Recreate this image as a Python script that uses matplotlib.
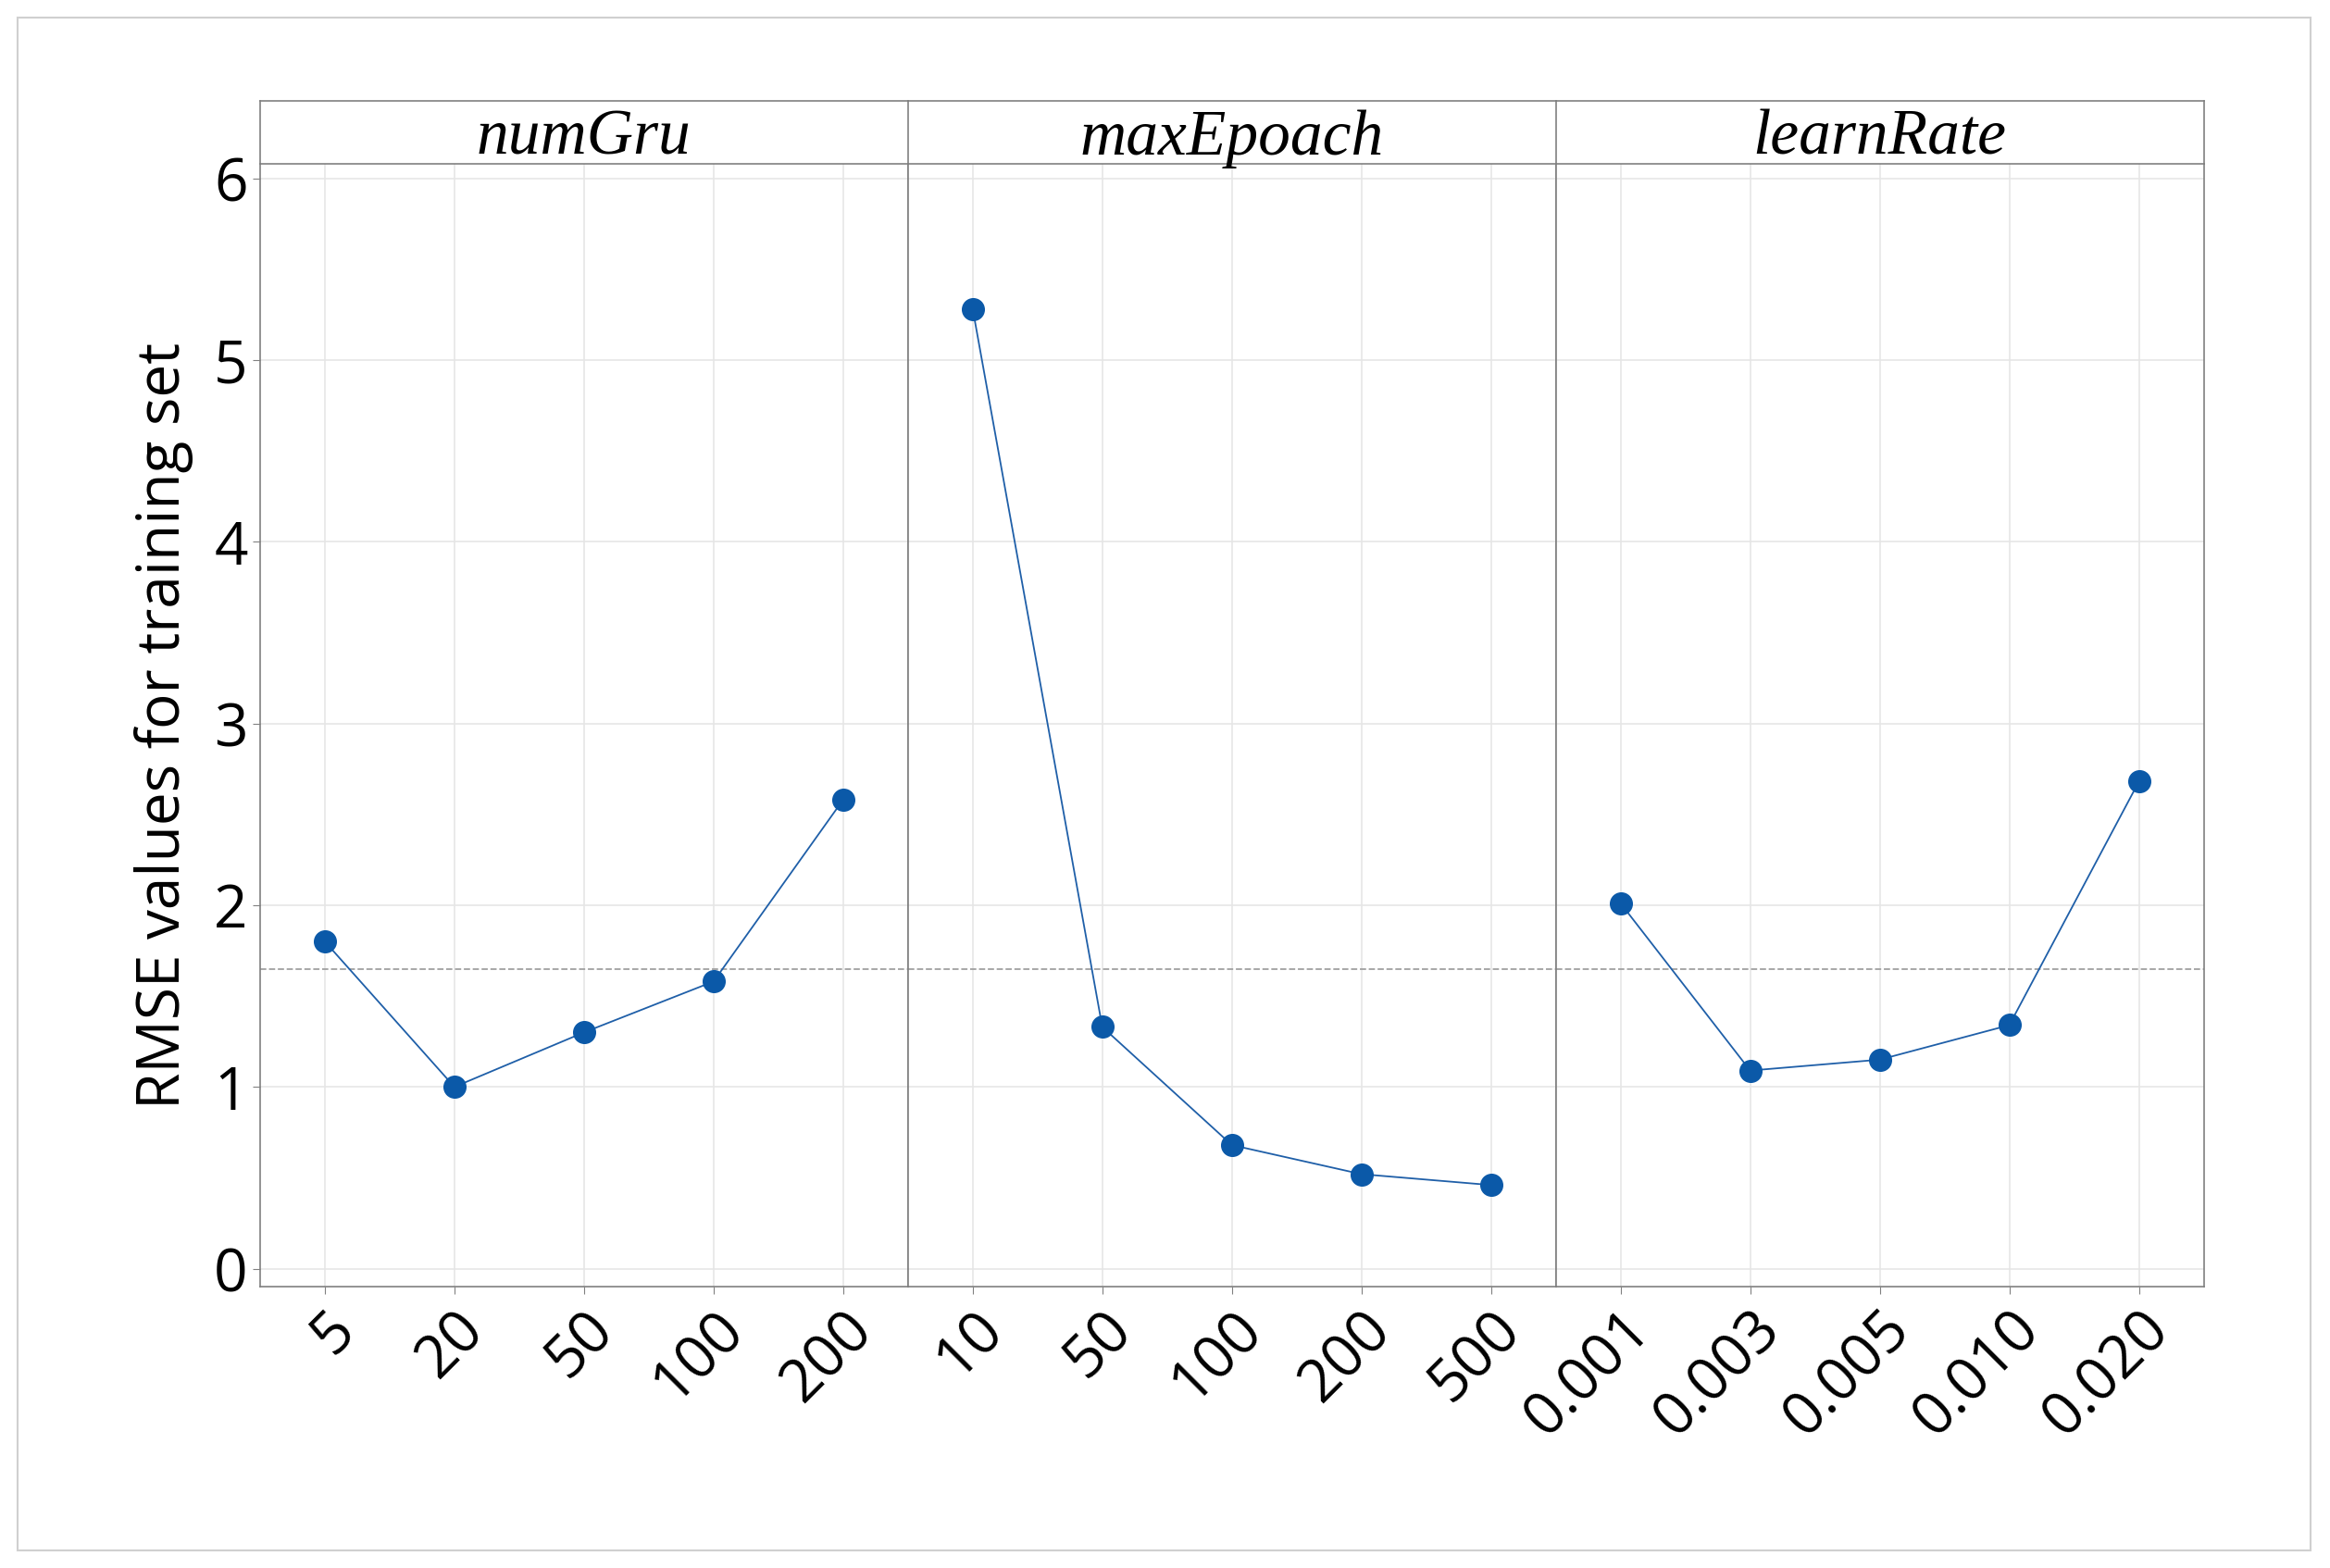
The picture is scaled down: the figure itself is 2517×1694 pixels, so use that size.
import matplotlib
matplotlib.use("Agg")
import matplotlib.pyplot as plt
from matplotlib.lines import Line2D

panels = ["numGru", "maxEpoach", "learnRate"]
labels = [["5", "20", "50", "100", "200"],
          ["10", "50", "100", "200", "500"],
          ["0.001", "0.003", "0.005", "0.010", "0.020"]]
values = [[1.80, 1.00, 1.30, 1.58, 2.58],
          [5.28, 1.33, 0.68, 0.52, 0.46],
          [2.01, 1.09, 1.15, 1.34, 2.68]]
mean_line = 1.65

plt.rcParams['font.family'] = ['Open Sans', 'DejaVu Sans']
fig = plt.figure(figsize=(25.17, 16.94), dpi=100)
fig.add_artist(plt.Rectangle((12/1568, 1-1042/1054), (1555-12)/1568, (1042-12)/1054,
                             transform=fig.transFigure, fill=False, ec='#d0d0d0', lw=1.5))
L, R, B, T = 175/1568, 1483/1568, 1-865/1054, 1-110/1054
w = (R-L)/3
strip_top = 1-68/1054
gray = '#808080'
for i in range(3):
    ax = fig.add_axes([L+i*w, B, w, T-B])
    x = list(range(5))
    ax.axhline(mean_line, color='#a0a0a0', ls='--', lw=1.3, zorder=1)
    ax.plot(x, values[i], color='#1f5fa8', lw=1.3, zorder=2)
    ax.plot(x, values[i], 'o', color='#0b59a8', ms=17, zorder=3)
    ax.set_xlim(-0.5, 4.5)
    ax.set_ylim(-0.1, 6.08)
    ax.set_yticks(range(7))
    ax.set_xticks(x)
    ax.set_xticklabels(labels[i], rotation=45, ha='right', rotation_mode='anchor', fontsize=46)
    ax.grid(True, color='#e6e6e6', lw=1.2)
    ax.set_axisbelow(True)
    for s in ax.spines.values():
        s.set_color(gray); s.set_linewidth(1.2)
    if i > 0:
        ax.tick_params(axis='y', left=False, labelleft=False)
    else:
        ax.tick_params(axis='y', labelsize=46, length=6, color=gray)
        ax.set_ylabel("RMSE values for training set", fontsize=46, labelpad=16)
    ax.tick_params(axis='x', length=6, color=gray, pad=4)
    fig.add_artist(Line2D([L+i*w, L+(i+1)*w], [strip_top, strip_top], transform=fig.transFigure, color=gray, lw=1.2))
    fig.text(L+(i+0.5)*w, (T+strip_top)/2 - 0.004, panels[i], ha='center', va='center',
             fontsize=50, family='Liberation Serif', style='italic')
for xx in [L, R, L+w, L+2*w]:
    fig.add_artist(Line2D([xx, xx], [T, strip_top], transform=fig.transFigure, color=gray, lw=1.2))

fig.savefig("out.png", dpi=100)
